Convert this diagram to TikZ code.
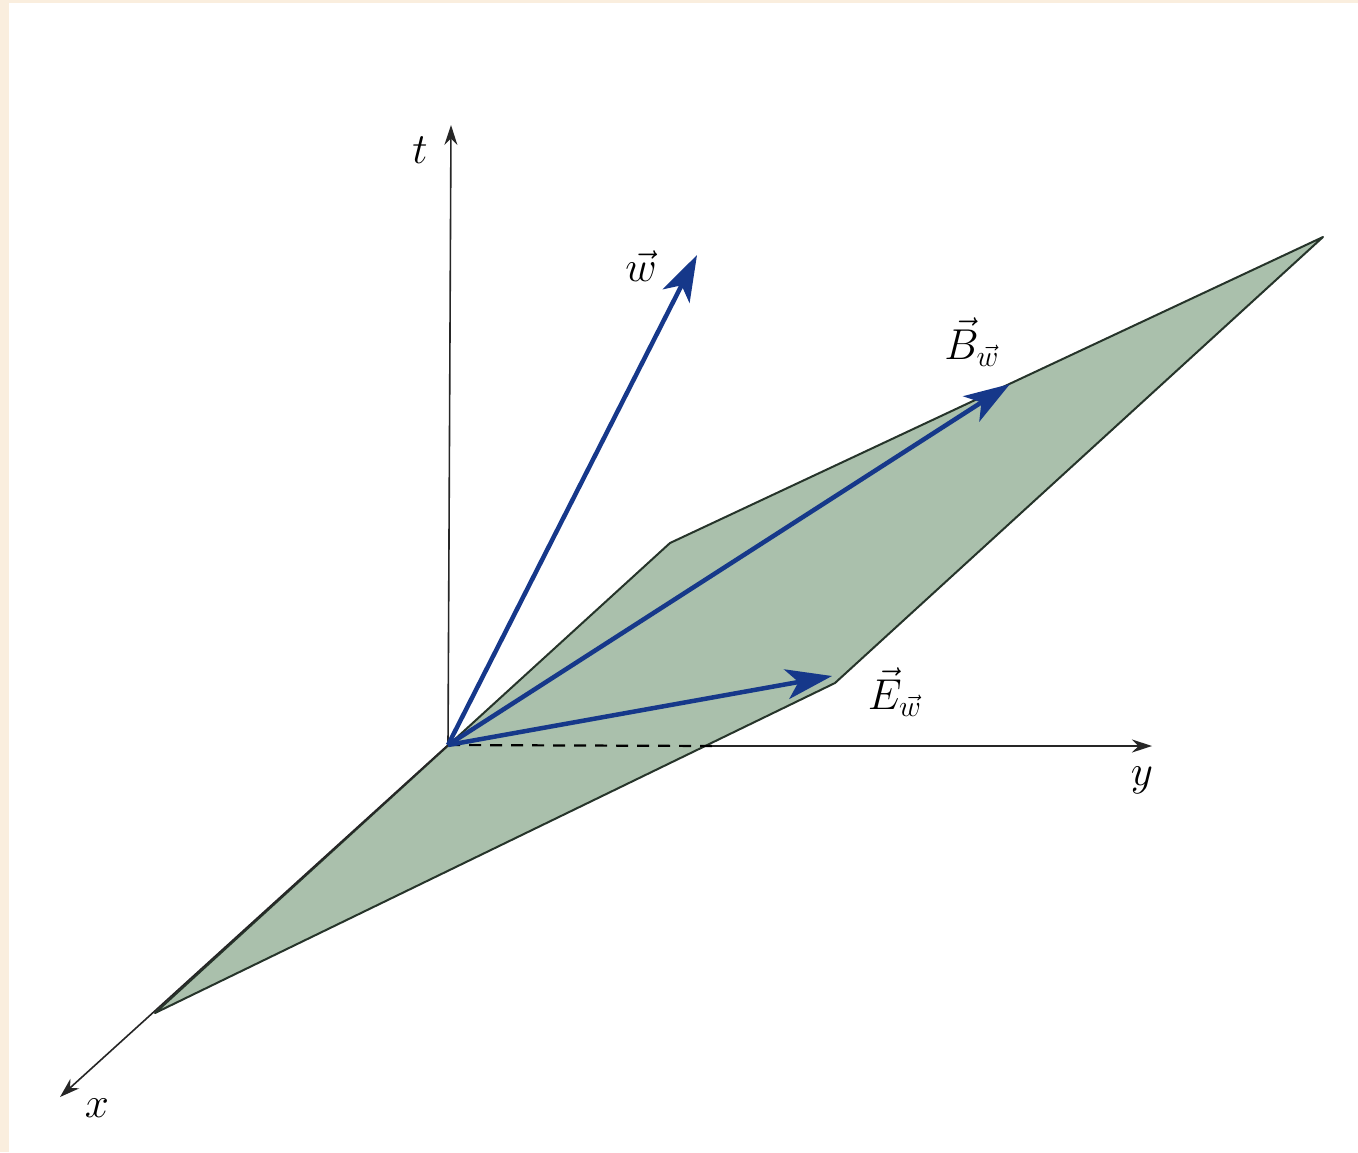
\documentclass[tikz,border=0pt]{standalone}
\usepackage{amsmath}
\usepackage{graphicx}
\usepackage{xcolor}
\usetikzlibrary{arrows.meta}
\definecolor{vecblue}{RGB}{22,56,138}
\definecolor{planegreen}{RGB}{170,192,172}
\definecolor{planeedge}{RGB}{38,52,42}
\definecolor{paper}{RGB}{250,238,222}
\newcommand{\biglbl}[1]{\scalebox{2.5}{#1}}
\tikzset{
  axis/.style  = {line width=1.6pt, draw=black!85,
                  -{Stealth[length=20pt,width=13pt]}},
  vec/.style   = {line width=4.5pt, draw=vecblue,
                  -{Stealth[length=46pt,width=30pt,inset=12pt]}},
  plane/.style = {fill=planegreen, draw=planeedge, line width=2pt,
                  line join=round},
  hidden/.style= {line width=2.2pt, draw=black, dash pattern=on 12pt off 9pt},
  lbl/.style   = {font=\LARGE, inner sep=0pt},
}
\begin{document}
\begin{tikzpicture}[x=1pt, y=-1pt]
  \useasboundingbox (0,0) rectangle (1358,1152);
  % paper
  \fill[paper] (0,0) rectangle (1358,1152);
  \fill[white] (9,3) rectangle (1358,1152);

  % points
  \coordinate (O)  at (448,745);
  \coordinate (p1) at (155,1013);
  \coordinate (p2) at (670,543);
  \coordinate (p3) at (1323,237);
  \coordinate (p4) at (835,683);
  \coordinate (cut) at (712,746);

  % plane
  \path[plane] (p1) -- (p2) -- (p3) -- (p4) -- cycle;

  % axes
  \node[lbl] (tlab) at (420,150) {\biglbl{$t$}};
  \node[lbl] (ylab) at (1142,780) {\biglbl{$y$}};
  \node[lbl] (xlab) at (97,1108) {\biglbl{$x$}};
  \coordinate (ttip) at (451,125);
  \coordinate (ytip) at (1152,746);
  \coordinate (xtip) at (60,1097);
  \draw[axis] (O) -- (ttip);
  \draw[axis] (O) -- (xtip);
  \draw[hidden] (O) -- (cut);
  \draw[axis] (cut) -- (ytip);

  % vectors
  \coordinate (wtip) at (697,255);
  \coordinate (btip) at (1010,384);
  \coordinate (etip) at (832,676);
  \draw[vec] (O) -- (wtip);
  \draw[vec] (O) -- (btip);
  \draw[vec] (O) -- (etip);
  \node[lbl] (wlab) at (641,266) {\biglbl{$\vec{w}$}};
  \node[lbl] (blab) at (972,342) {\biglbl{$\vec{B}_{\vec{w}}$}};
  \node[lbl] (elab) at (895,692) {\biglbl{$\vec{E}_{\vec{w}}$}};
\end{tikzpicture}
\end{document}
